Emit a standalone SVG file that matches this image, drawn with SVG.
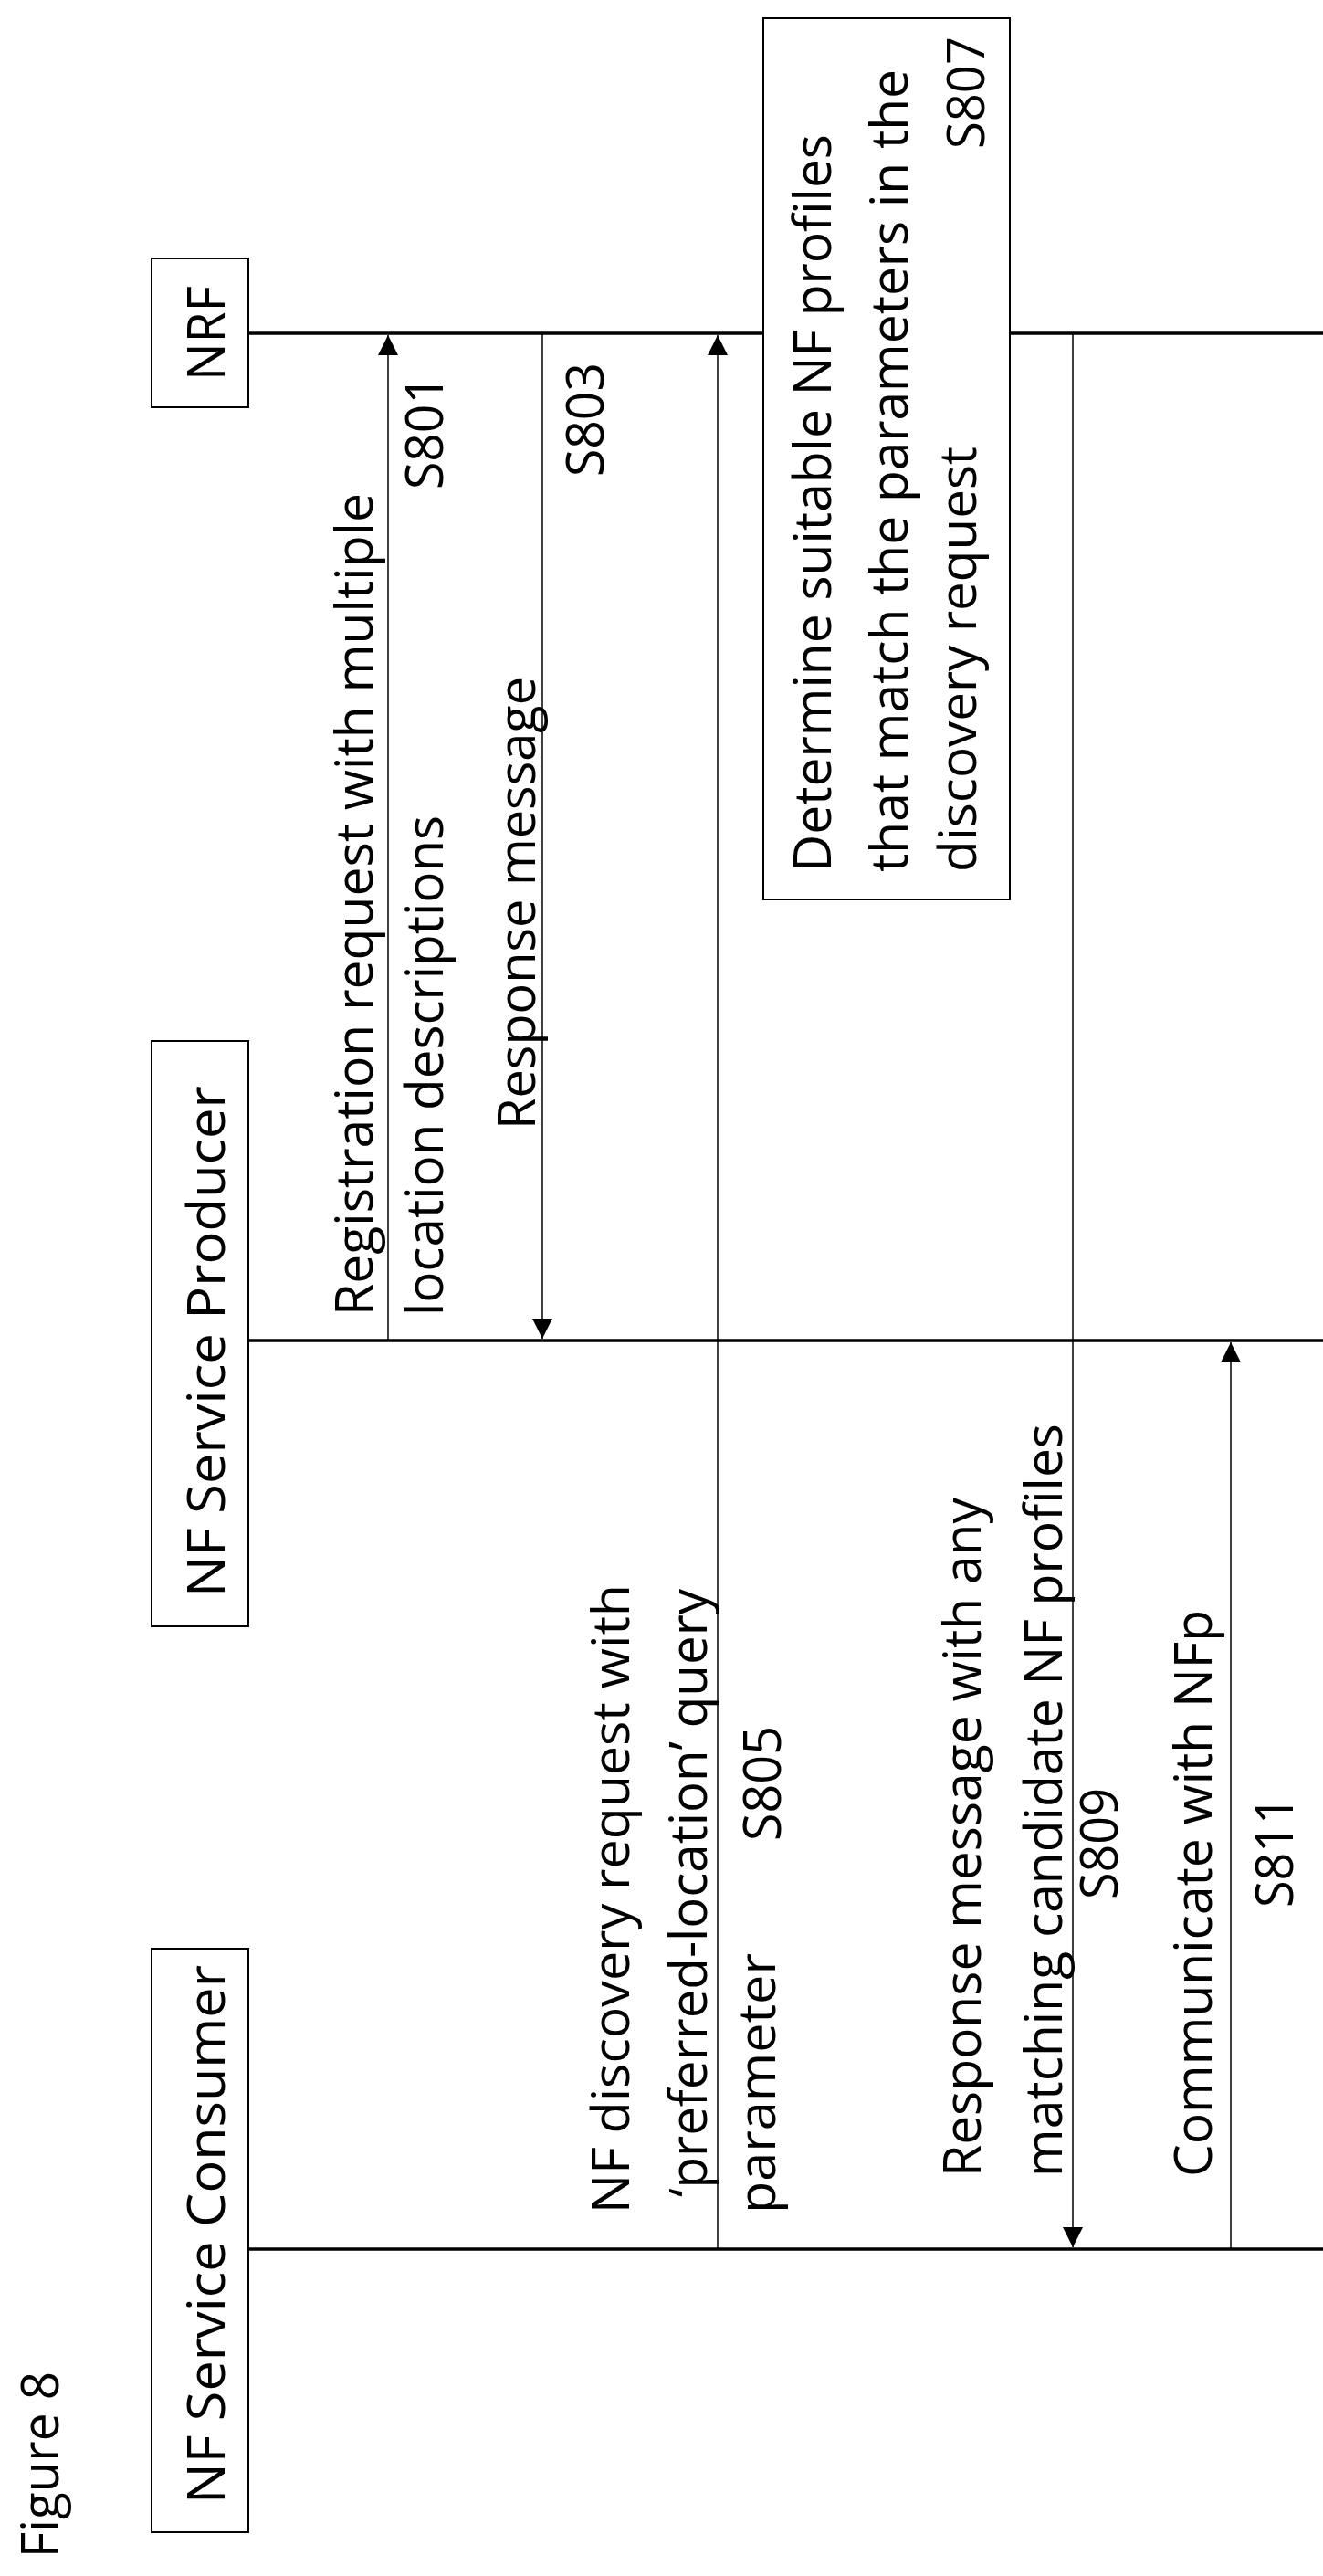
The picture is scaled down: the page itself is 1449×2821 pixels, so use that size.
<svg xmlns="http://www.w3.org/2000/svg" width="1449" height="2821" viewBox="0 0 1449 2821">
<style>
text{font-family:"Open Sans","Liberation Sans",sans-serif;font-size:56px;fill:#000}
.box{fill:#fff;stroke:#000;stroke-width:2}
.life{stroke:#000;stroke-width:3.5;fill:none}
.msg{stroke:#000;stroke-width:1.5;fill:none}
</style>
<defs>
<marker id="ah" markerUnits="userSpaceOnUse" markerWidth="22" markerHeight="22" viewBox="0 0 22 22" refX="22" refY="11" orient="auto">
<path d="M0,0 L22,11 L0,22 Z" fill="#000"/>
</marker>
</defs>
<text transform="translate(64,2801) rotate(-90)" textLength="204" lengthAdjust="spacingAndGlyphs">Figure 8</text>
<g id="connectors">
<line class="life" x1="272" y1="365" x2="1449" y2="365"/>
<line class="life" x1="272" y1="1468" x2="1449" y2="1468"/>
<line class="life" x1="272" y1="2463" x2="1449" y2="2463"/>
<line class="msg" x1="425" y1="1468" x2="425" y2="367" marker-end="url(#ah)"/>
<line class="msg" x1="594" y1="365" x2="594" y2="1466" marker-end="url(#ah)"/>
<line class="msg" x1="786" y1="2463" x2="786" y2="367" marker-end="url(#ah)"/>
<line class="msg" x1="1175" y1="365" x2="1175" y2="2461" marker-end="url(#ah)"/>
<line class="msg" x1="1348" y1="2463" x2="1348" y2="1470" marker-end="url(#ah)"/>
</g>
<g id="nrf">
<rect class="box" x="166" y="283" width="106" height="163"/>
<text transform="translate(246,417) rotate(-90)" textLength="104" lengthAdjust="spacingAndGlyphs">NRF</text>
</g>
<g id="producer">
<rect class="box" x="166" y="1140" width="106" height="641"/>
<text transform="translate(246,1749) rotate(-90)" textLength="560" lengthAdjust="spacingAndGlyphs">NF Service Producer</text>
</g>
<g id="consumer">
<rect class="box" x="166" y="2134" width="106" height="639"/>
<text transform="translate(246,2742) rotate(-90)" textLength="590" lengthAdjust="spacingAndGlyphs">NF Service Consumer</text>
</g>
<g id="s807">
<rect class="box" x="836" y="20" width="270" height="965"/>
<text transform="translate(910,955) rotate(-90)" textLength="808" lengthAdjust="spacingAndGlyphs">Determine suitable NF profiles</text>
<text transform="translate(994,955) rotate(-90)" textLength="879" lengthAdjust="spacingAndGlyphs">that match the parameters in the</text>
<text transform="translate(1069,955) rotate(-90)" textLength="466" lengthAdjust="spacingAndGlyphs">discovery request</text>
<text transform="translate(1078,163) rotate(-90)" textLength="123" lengthAdjust="spacingAndGlyphs">S807</text>
</g>
<g id="labels">
<text transform="translate(408,1441) rotate(-90)" textLength="901" lengthAdjust="spacingAndGlyphs">Registration request with multiple</text>
<text transform="translate(485,1441) rotate(-90)" textLength="548" lengthAdjust="spacingAndGlyphs">location descriptions</text>
<text transform="translate(485,536) rotate(-90)" textLength="125" lengthAdjust="spacingAndGlyphs">S801</text>
<text transform="translate(586,1237) rotate(-90)" textLength="496" lengthAdjust="spacingAndGlyphs">Response message</text>
<text transform="translate(661,522) rotate(-90)" textLength="125" lengthAdjust="spacingAndGlyphs">S803</text>
<text transform="translate(689,2424) rotate(-90)" textLength="689" lengthAdjust="spacingAndGlyphs">NF discovery request with</text>
<text transform="translate(774,2406) rotate(-90)" textLength="666" lengthAdjust="spacingAndGlyphs">‘preferred-location’ query</text>
<text transform="translate(849,2424) rotate(-90)" textLength="285" lengthAdjust="spacingAndGlyphs">parameter</text>
<text transform="translate(855,2016) rotate(-90)" textLength="126" lengthAdjust="spacingAndGlyphs">S805</text>
<text transform="translate(1074,2384) rotate(-90)" textLength="744" lengthAdjust="spacingAndGlyphs">Response message with any</text>
<text transform="translate(1163,2384) rotate(-90)" textLength="825" lengthAdjust="spacingAndGlyphs">matching candidate NF profiles</text>
<text transform="translate(1224,2080) rotate(-90)" textLength="122" lengthAdjust="spacingAndGlyphs">S809</text>
<text transform="translate(1327,2384) rotate(-90)" textLength="621" lengthAdjust="spacingAndGlyphs">Communicate with NFp</text>
<text transform="translate(1416,2089) rotate(-90)" textLength="122" lengthAdjust="spacingAndGlyphs">S811</text>
</g>
</svg>
